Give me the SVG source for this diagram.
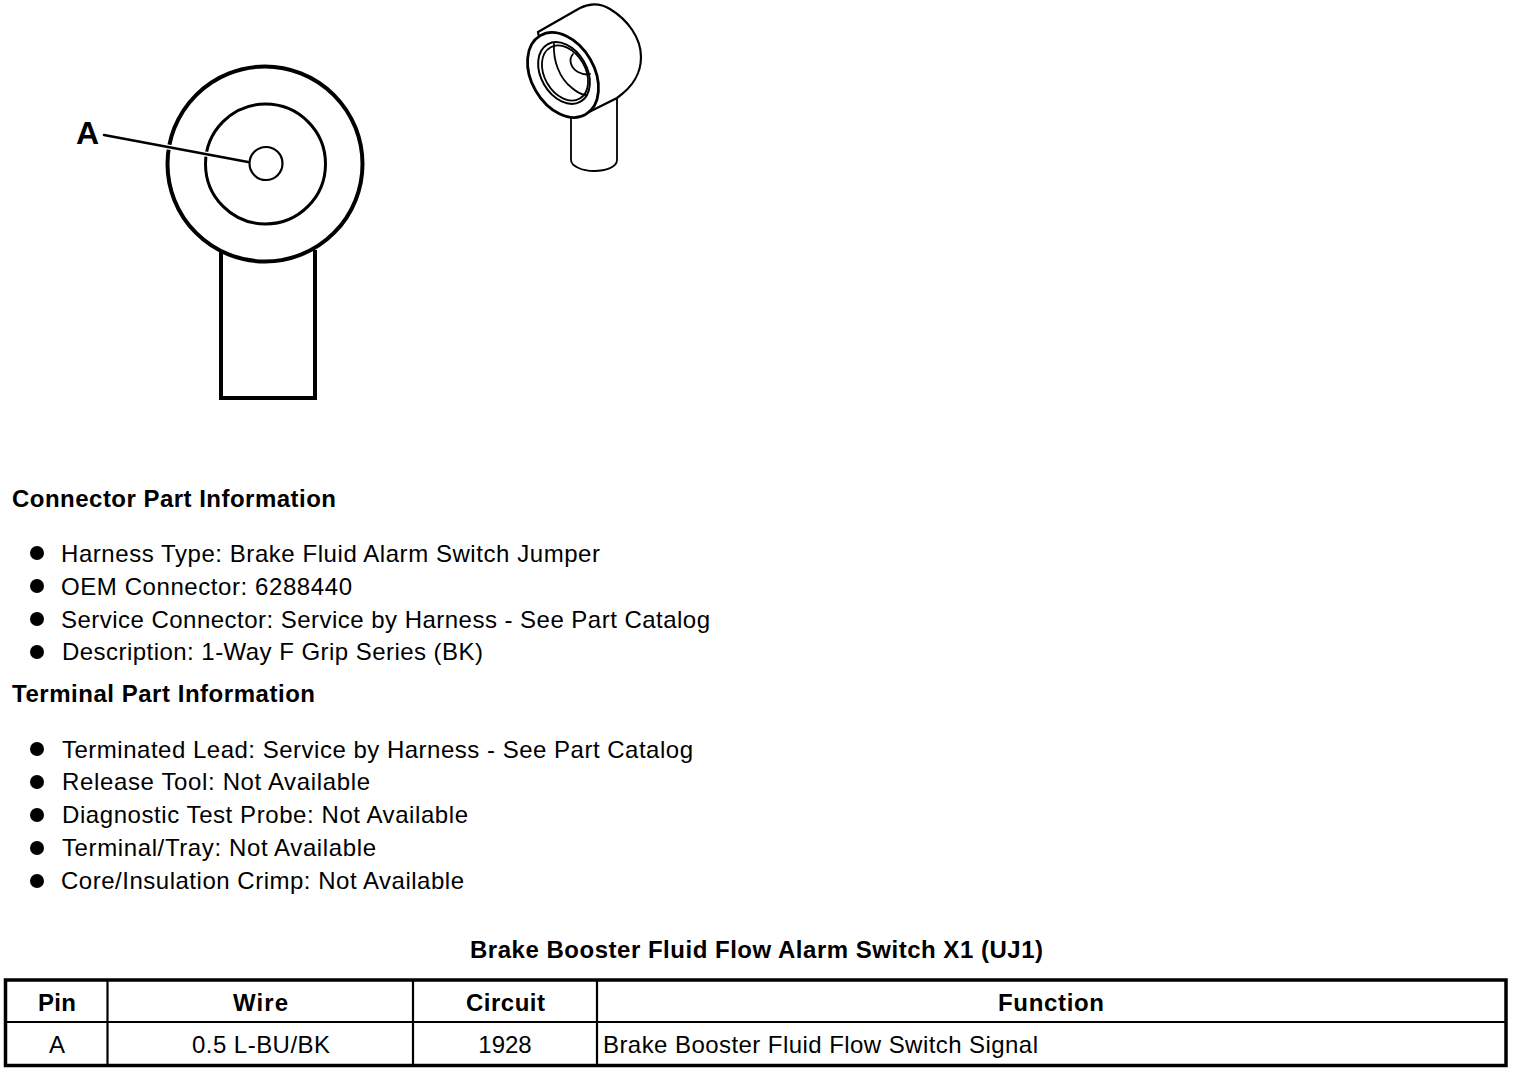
<svg xmlns="http://www.w3.org/2000/svg" width="1520" height="1072" viewBox="0 0 1520 1072">
<style>
text{font-family:"Liberation Sans",Arial,sans-serif;font-size:24px;fill:#000}
.b{font-weight:bold}
.m{text-anchor:middle}
.l{fill:none;stroke:#000;stroke-linecap:round;stroke-linejoin:round}
.f{fill:#fff;stroke:#000}
.d{fill:#000}
</style>
<rect width="1520" height="1072" fill="#fff"/>
<g id="front-view">
<path fill="none" stroke="#000" stroke-width="4" d="M221 250V398H315V250"/>
<circle cx="265" cy="164" r="97.500" fill="#fff" stroke="#000" stroke-width="4"/>
<circle cx="265.500" cy="164" r="60" fill="none" stroke="#000" stroke-width="3"/>
<circle cx="266" cy="163.500" r="16.500" fill="none" stroke="#000" stroke-width="2.200"/>
<path d="M104 135L248 162" stroke="#fff" stroke-width="5" fill="none"/>
<path class="l" stroke-width="2.500" d="M104 135L248 162"/>
<text class="b" x="76" y="144" style="font-size:32px">A</text>
</g>
<g id="iso-view">
<path class="l" stroke-width="1.800" d="M571 116V160C571 166 582 171 594 171C606 171 617 167 617 160V99"/>
<path class="f" stroke-width="2.200" d="M538 32L580 8C590 3 600 3 610 9C628 20 641 38 641 57C641 72 635 85 617 98L587 113C580 117 570 117 565 114L545 70Z"/>
<ellipse class="f" stroke-width="2.800" cx="563" cy="75" rx="45.500" ry="31.500" transform="rotate(60 563 75)"/>
<ellipse class="l" stroke-width="2" cx="564" cy="73" rx="33" ry="23" transform="rotate(60 564 73)"/>
<ellipse class="l" stroke-width="1.800" cx="565" cy="73" rx="29.500" ry="20.500" transform="rotate(60 565 73)"/>
<path class="l" stroke-width="1.800" d="M554 44C553 60 559 78 572 88C578 93 583 95 586 95"/>
<path class="l" stroke-width="1.800" d="M573 54C568 60 571 68 578 72C582 74 587 75 590 74"/>
</g>
<g id="connector-info">
<text class="b" x="12" y="507" textLength="324">Connector Part Information</text>
<circle class="d" cx="37" cy="553" r="7"/><text x="61" y="562" textLength="539">Harness Type: Brake Fluid Alarm Switch Jumper</text>
<circle class="d" cx="37" cy="586" r="7"/><text x="61" y="595" textLength="291">OEM Connector: 6288440</text>
<circle class="d" cx="37" cy="619" r="7"/><text x="61" y="628" textLength="649">Service Connector: Service by Harness - See Part Catalog</text>
<circle class="d" cx="37" cy="652" r="7"/><text x="62" y="660" textLength="421">Description: 1-Way F Grip Series (BK)</text>
</g>
<g id="terminal-info">
<text class="b" x="12" y="702" textLength="303">Terminal Part Information</text>
<circle class="d" cx="37" cy="749" r="7"/><text x="62" y="758" textLength="631">Terminated Lead: Service by Harness - See Part Catalog</text>
<circle class="d" cx="37" cy="782" r="7"/><text x="62" y="790" textLength="308">Release Tool: Not Available</text>
<circle class="d" cx="37" cy="815" r="7"/><text x="62" y="823" textLength="406">Diagnostic Test Probe: Not Available</text>
<circle class="d" cx="37" cy="848" r="7"/><text x="62" y="856" textLength="314">Terminal/Tray: Not Available</text>
<circle class="d" cx="37" cy="881" r="7"/><text x="61" y="889" textLength="403">Core/Insulation Crimp: Not Available</text>
</g>
<g id="table">
<text class="b" x="470" y="958" textLength="573">Brake Booster Fluid Flow Alarm Switch X1 (UJ1)</text>
<rect x="5.500" y="980" width="1500.500" height="85.500" fill="none" stroke="#000" stroke-width="3.500"/>
<path d="M6 1022H1506M107.500 980V1065M413 980V1065M597 980V1065" fill="none" stroke="#000" stroke-width="2.200"/>
<text class="b" x="38" y="1011" textLength="38">Pin</text>
<text class="b" x="233" y="1011" textLength="55">Wire</text>
<text class="b" x="466" y="1011" textLength="79">Circuit</text>
<text class="b" x="998" y="1011" textLength="106">Function</text>
<text class="m" x="57" y="1053">A</text>
<text x="192" y="1053" textLength="138">0.5 L-BU/BK</text>
<text class="m" x="505" y="1053">1928</text>
<text x="603" y="1053" textLength="435">Brake Booster Fluid Flow Switch Signal</text>
</g>
</svg>
